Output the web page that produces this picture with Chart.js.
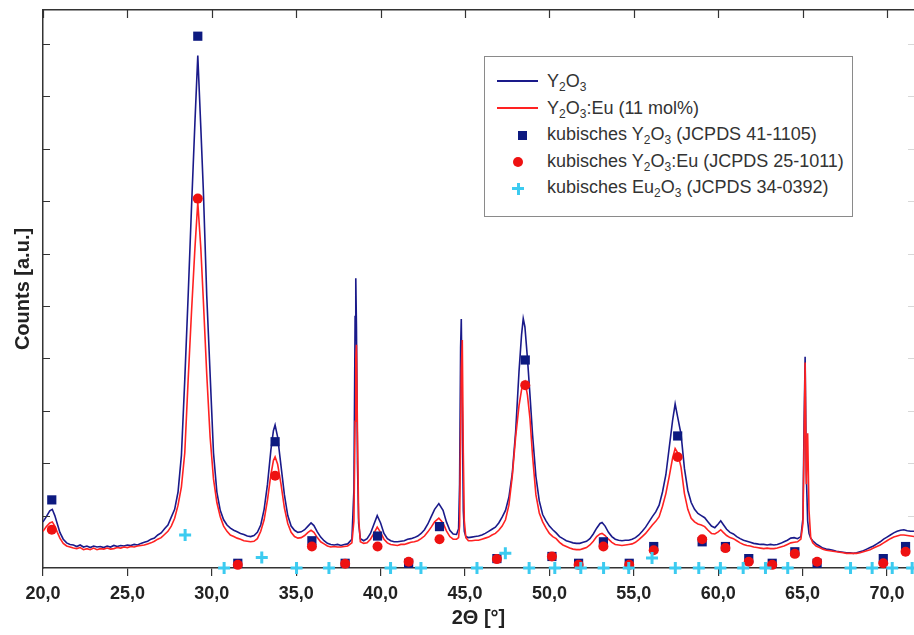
<!DOCTYPE html>
<html lang="de">
<head>
<meta charset="utf-8">
<title>XRD Y2O3</title>
<script src="https://cdn.jsdelivr.net/npm/chart.js@4.4.1/dist/chart.umd.min.js"></script>
<style>
  html, body { margin: 0; padding: 0; background: #fff; overflow: hidden; }
  #wrap { position: relative; width: 914px; height: 635px; }
  #legend {
    position: absolute; left: 484px; top: 56px; width: 369px; height: 161px;
    box-sizing: border-box; border: 1.5px solid #8a8a8a; background: #fff;
    padding-top: 11px;
    font: 18px "Liberation Sans", Arial, sans-serif; color: #333;
  }
  #legend .row { position: relative; height: 26.5px; line-height: 26.5px; padding-left: 62px; white-space: nowrap; }
  #legend sub { font-size: 12px; vertical-align: -4px; line-height: 0; }
  #legend .key { position: absolute; left: 12px; top: 0; width: 41px; height: 26.5px; }
  .key.line::before { content: ""; position: absolute; left: 0; right: 0; top: 12px; height: 2px; }
  .key.navy::before { background: #1a1a8a; }
  .key.red::before { background: #ff2222; }
  .key.sq::before { content: ""; position: absolute; left: 21px; top: 10px; width: 9px; height: 9px; background: #0d1a80; }
  .key.dot::before { content: ""; position: absolute; left: 16px; top: 9px; width: 10px; height: 10px; border-radius: 50%; background: #ee1111; }
  .key.cross::before { content: ""; position: absolute; left: 15px; top: 13px; width: 12px; height: 3px; background: #3ccbf0; }
  .key.cross::after { content: ""; position: absolute; left: 19.5px; top: 8.5px; width: 3px; height: 12px; background: #3ccbf0; }
</style>
</head>
<body>
<div id="wrap">
  <canvas id="xrd" width="914" height="635"></canvas>
  <div id="legend"></div>
</div>
<script>
// 2Theta grid and intensities (arbitrary units, 1 = one y tick)
const twoTheta = [
  20.0, 20.2, 20.4, 20.55, 20.7, 20.85, 21.0, 21.2, 21.4, 21.6, 21.8, 22.0, 22.2, 22.4, 22.6, 22.8,
  23.0, 23.2, 23.4, 23.6, 23.8, 24.0, 24.2, 24.4, 24.6, 24.8, 25.0, 25.2, 25.4, 25.6, 25.8, 26.0,
  26.2, 26.4, 26.6, 26.8, 27.0, 27.2, 27.4, 27.6, 27.8, 28.0, 28.2, 28.4, 28.6, 28.8, 29.0, 29.17,
  29.35, 29.5, 29.7, 29.9, 30.1, 30.3, 30.5, 30.7, 30.9, 31.1, 31.3, 31.5, 31.7, 31.9, 32.1, 32.3,
  32.5, 32.7, 32.9, 33.1, 33.3, 33.5, 33.65, 33.75, 33.9, 34.1, 34.3, 34.5, 34.7, 34.9, 35.1, 35.3,
  35.5, 35.7, 35.88, 36.05, 36.25, 36.45, 36.65, 36.85, 37.05, 37.25, 37.45, 37.65, 37.85, 38.05, 38.3, 38.42,
  38.49, 38.53, 38.57, 38.63, 38.7, 38.8, 39.0, 39.2, 39.4, 39.6, 39.8, 40.0, 40.2, 40.4, 40.6, 40.8,
  41.0, 41.2, 41.4, 41.6, 41.8, 42.0, 42.2, 42.4, 42.6, 42.8, 43.0, 43.2, 43.45, 43.7, 43.9, 44.1,
  44.3, 44.5, 44.62, 44.68, 44.74, 44.78, 44.84, 44.9, 44.96, 45.05, 45.2, 45.4, 45.6, 45.8, 46.0, 46.2,
  46.4, 46.6, 46.8, 47.0, 47.2, 47.4, 47.6, 47.8, 48.0, 48.2, 48.35, 48.45, 48.55, 48.7, 48.85, 49.0,
  49.2, 49.4, 49.6, 49.8, 50.0, 50.2, 50.4, 50.6, 50.8, 51.0, 51.2, 51.4, 51.6, 51.8, 52.0, 52.2,
  52.4, 52.6, 52.8, 53.0, 53.12, 53.3, 53.5, 53.7, 53.9, 54.1, 54.3, 54.5, 54.7, 54.9, 55.1, 55.3,
  55.5, 55.7, 55.9, 56.1, 56.3, 56.5, 56.7, 56.9, 57.1, 57.3, 57.45, 57.6, 57.8, 58.0, 58.2, 58.4,
  58.6, 58.8, 59.0, 59.2, 59.4, 59.6, 59.8, 60.0, 60.15, 60.3, 60.5, 60.7, 60.9, 61.1, 61.3, 61.5,
  61.7, 61.9, 62.1, 62.3, 62.5, 62.7, 62.9, 63.1, 63.3, 63.5, 63.7, 63.9, 64.1, 64.3, 64.5, 64.7,
  64.9, 65.02, 65.09, 65.15, 65.22, 65.3, 65.38, 65.48, 65.6, 65.8, 66.0, 66.2, 66.4, 66.6, 66.8, 67.0,
  67.2, 67.4, 67.6, 67.8, 68.0, 68.2, 68.4, 68.6, 68.8, 69.0, 69.2, 69.4, 69.6, 69.8, 70.0, 70.2,
  70.4, 70.6, 70.8, 71.0, 71.2, 71.4, 71.6
];

const countsY2O3 = [
  0.88, 0.98, 1.09, 1.12, 1.00, 0.84, 0.68, 0.55, 0.48, 0.45, 0.44, 0.41, 0.44, 0.40, 0.42, 0.39,
  0.42, 0.40, 0.41, 0.39, 0.42, 0.40, 0.43, 0.41, 0.43, 0.42, 0.44, 0.43, 0.45, 0.44, 0.47, 0.49,
  0.51, 0.55, 0.57, 0.63, 0.67, 0.75, 0.82, 0.97, 1.12, 1.45, 2.15, 3.60, 5.20, 6.90, 8.50, 9.78,
  8.40, 7.20, 5.20, 3.70, 2.20, 1.45, 1.10, 0.92, 0.82, 0.76, 0.72, 0.69, 0.66, 0.64, 0.61, 0.60,
  0.62, 0.68, 0.82, 1.12, 1.60, 2.25, 2.62, 2.73, 2.50, 1.95, 1.40, 1.00, 0.80, 0.72, 0.68, 0.69,
  0.73, 0.80, 0.86, 0.81, 0.69, 0.59, 0.52, 0.47, 0.45, 0.44, 0.45, 0.43, 0.45, 0.46, 0.55, 1.50,
  4.80, 5.53, 4.60, 2.00, 0.85, 0.56, 0.52, 0.56, 0.66, 0.83, 1.00, 0.86, 0.66, 0.56, 0.52, 0.50,
  0.50, 0.51, 0.52, 0.55, 0.56, 0.58, 0.61, 0.66, 0.73, 0.84, 0.98, 1.12, 1.23, 1.10, 0.88, 0.72,
  0.65, 0.64, 0.75, 1.60, 4.20, 4.75, 3.00, 1.10, 0.70, 0.60, 0.58, 0.59, 0.60, 0.61, 0.63, 0.66,
  0.70, 0.74, 0.78, 0.86, 0.97, 1.10, 1.35, 1.80, 2.60, 3.75, 4.45, 4.76, 4.60, 4.00, 3.30, 2.55,
  1.75, 1.28, 1.02, 0.90, 0.80, 0.73, 0.67, 0.60, 0.56, 0.52, 0.50, 0.48, 0.47, 0.47, 0.49, 0.51,
  0.56, 0.65, 0.76, 0.85, 0.87, 0.80, 0.68, 0.60, 0.55, 0.53, 0.52, 0.53, 0.53, 0.55, 0.58, 0.63,
  0.70, 0.78, 0.88, 0.98, 1.07, 1.20, 1.45, 1.78, 2.30, 2.82, 3.13, 2.88, 2.55, 1.90, 1.48, 1.25,
  1.12, 1.04, 1.00, 0.96, 0.88, 0.80, 0.77, 0.84, 0.90, 0.83, 0.74, 0.68, 0.65, 0.60, 0.56, 0.53,
  0.51, 0.49, 0.47, 0.46, 0.45, 0.45, 0.44, 0.45, 0.44, 0.45, 0.47, 0.50, 0.53, 0.57, 0.58, 0.56,
  0.60, 0.95, 2.80, 4.03, 1.80, 0.90, 0.66, 0.57, 0.52, 0.46, 0.42, 0.38, 0.36, 0.35, 0.34, 0.32,
  0.31, 0.30, 0.29, 0.29, 0.28, 0.29, 0.31, 0.33, 0.36, 0.39, 0.42, 0.46, 0.50, 0.55, 0.59, 0.63,
  0.67, 0.70, 0.72, 0.73, 0.71, 0.70, 0.70
];

const countsY2O3Eu = [
  0.70, 0.79, 0.86, 0.88, 0.80, 0.68, 0.57, 0.47, 0.42, 0.40, 0.38, 0.37, 0.39, 0.35, 0.37, 0.35,
  0.38, 0.35, 0.37, 0.36, 0.38, 0.36, 0.37, 0.39, 0.38, 0.40, 0.39, 0.41, 0.40, 0.42, 0.43, 0.44,
  0.46, 0.48, 0.51, 0.55, 0.58, 0.64, 0.70, 0.80, 0.95, 1.20, 1.55, 2.20, 3.60, 4.90, 6.10, 6.98,
  6.10, 5.10, 3.70, 2.50, 1.70, 1.25, 0.98, 0.80, 0.70, 0.63, 0.60, 0.57, 0.55, 0.52, 0.51, 0.50,
  0.51, 0.56, 0.70, 0.92, 1.30, 1.78, 2.05, 2.12, 1.98, 1.60, 1.15, 0.85, 0.68, 0.60, 0.57, 0.58,
  0.62, 0.68, 0.72, 0.68, 0.58, 0.50, 0.46, 0.42, 0.40, 0.41, 0.40, 0.40, 0.41, 0.42, 0.48, 0.90,
  2.80, 4.00, 4.26, 2.60, 0.95, 0.50, 0.47, 0.48, 0.55, 0.66, 0.78, 0.68, 0.55, 0.48, 0.45, 0.44,
  0.43, 0.45, 0.45, 0.47, 0.49, 0.50, 0.52, 0.56, 0.61, 0.69, 0.78, 0.88, 0.95, 0.86, 0.71, 0.60,
  0.55, 0.55, 0.58, 0.80, 2.50, 3.80, 4.35, 2.20, 0.90, 0.58, 0.52, 0.52, 0.53, 0.53, 0.55, 0.57,
  0.59, 0.63, 0.66, 0.72, 0.80, 0.92, 1.20, 1.75, 2.50, 3.10, 3.40, 3.52, 3.56, 3.30, 2.85, 2.15,
  1.40, 1.05, 0.88, 0.76, 0.66, 0.60, 0.56, 0.49, 0.44, 0.41, 0.38, 0.36, 0.35, 0.35, 0.37, 0.39,
  0.44, 0.51, 0.60, 0.65, 0.66, 0.62, 0.55, 0.49, 0.45, 0.44, 0.43, 0.44, 0.45, 0.46, 0.49, 0.54,
  0.60, 0.66, 0.74, 0.82, 0.89, 0.98, 1.18, 1.42, 1.75, 2.10, 2.28, 2.20, 1.92, 1.42, 1.12, 0.95,
  0.88, 0.84, 0.82, 0.79, 0.72, 0.66, 0.65, 0.69, 0.73, 0.68, 0.62, 0.58, 0.56, 0.52, 0.48, 0.45,
  0.43, 0.42, 0.40, 0.39, 0.38, 0.37, 0.38, 0.37, 0.37, 0.38, 0.40, 0.42, 0.45, 0.48, 0.49, 0.50,
  0.55, 0.85, 2.40, 3.92, 1.60, 2.57, 1.10, 0.58, 0.48, 0.42, 0.39, 0.36, 0.34, 0.33, 0.32, 0.31,
  0.30, 0.29, 0.28, 0.28, 0.28, 0.28, 0.29, 0.31, 0.33, 0.35, 0.38, 0.41, 0.44, 0.48, 0.52, 0.56,
  0.59, 0.61, 0.63, 0.63, 0.62, 0.61, 0.60
];

// reference reflections (JCPDS cards), marker positions as drawn
const refY2O3Theta = [20.52, 29.17, 31.54, 33.75, 35.93, 37.90, 39.82, 41.66, 43.49, 46.89, 48.57, 50.15, 51.73,
  53.20, 54.73, 56.18, 57.60, 59.05, 60.43, 61.81, 63.20, 64.54, 65.86, 69.78, 71.10];
const refY2O3Counts = [1.30, 10.15, 0.09, 2.41, 0.52, 0.09, 0.61, 0.09, 0.79, 0.18, 3.97, 0.22, 0.09,
  0.50, 0.09, 0.41, 2.52, 0.50, 0.41, 0.18, 0.09, 0.31, 0.09, 0.18, 0.41];

const refY2O3EuTheta = [20.52, 29.17, 31.54, 33.75, 35.93, 37.90, 39.82, 41.66, 43.49, 46.89, 48.57, 50.15, 51.73,
  53.20, 54.73, 56.18, 57.60, 59.05, 60.43, 61.81, 63.20, 64.54, 65.86, 69.78, 71.10];
const refY2O3EuCounts = [0.73, 7.05, 0.06, 1.76, 0.41, 0.08, 0.41, 0.12, 0.55, 0.17, 3.49, 0.22, 0.06,
  0.41, 0.06, 0.34, 2.12, 0.55, 0.38, 0.12, 0.06, 0.27, 0.12, 0.09, 0.31];

const refEu2O3Theta = [28.42, 30.73, 32.96, 35.02, 36.94, 40.59, 42.39, 45.71, 47.39, 48.80, 50.32, 51.86, 53.21,
  54.70, 56.08, 57.46, 58.85, 60.13, 61.48, 62.80, 64.12, 67.84, 69.12, 70.31, 71.49];
const refEu2O3Counts = [0.63, 0.00, 0.20, 0.00, 0.00, 0.00, 0.00, 0.00, 0.28, 0.00, 0.00, 0.00, 0.00,
  0.00, 0.19, 0.00, 0.00, 0.00, 0.00, 0.00, 0.00, 0.00, 0.00, 0.00, 0.00];

const legendLabels = [
  'Y<sub>2</sub>O<sub>3</sub>',
  'Y<sub>2</sub>O<sub>3</sub>:Eu (11 mol%)',
  'kubisches Y<sub>2</sub>O<sub>3</sub> (JCPDS 41-1105)',
  'kubisches Y<sub>2</sub>O<sub>3</sub>:Eu (JCPDS 25-1011)',
  'kubisches Eu<sub>2</sub>O<sub>3</sub> (JCPDS 34-0392)'
];
const legendKeys = ['line navy', 'line red', 'sq', 'dot', 'cross'];

const X_MIN = 20, X_MAX = 71.6, Y_MAX = 10.65;

function pairs(xs, ys) {
  return xs.map((x, i) => ({ x: x, y: ys[i] }));
}

// axis runs to the window edge: no extra room for the last label
function fixHeight(h) {
  return function (s) {
    s.height = h;
    s.paddingLeft = 0;
    s.paddingRight = 0;
  };
}

// ticks pointing into the plot on the left and top axes
const inwardTicks = {
  id: 'inwardTicks',
  afterDraw(chart) {
    const { ctx, chartArea: a, scales } = chart;
    ctx.save();
    ctx.strokeStyle = '#333';
    ctx.lineWidth = 1.2;
    ctx.beginPath();
    scales.y.ticks.forEach((t) => {
      if (t.value === 0) return;
      const py = Math.round(scales.y.getPixelForValue(t.value)) + 0.5;
      ctx.moveTo(a.left, py);
      ctx.lineTo(a.left + 7, py);
    });
    scales.x2.ticks.forEach((t) => {
      const px = Math.round(scales.x2.getPixelForValue(t.value)) + 0.5;
      ctx.moveTo(px, a.top);
      ctx.lineTo(px, a.top + 8);
    });
    ctx.stroke();
    // faint marks of the cut-off right axis
    ctx.strokeStyle = '#d8d8d8';
    ctx.beginPath();
    scales.y.ticks.forEach((t) => {
      if (t.value === 0) return;
      const py = Math.round(scales.y.getPixelForValue(t.value)) + 0.5;
      ctx.moveTo(a.right - 6, py);
      ctx.lineTo(a.right, py);
    });
    ctx.stroke();
    ctx.restore();
  }
};

const fontFamily = '"Liberation Sans", Arial, Helvetica, sans-serif';

new Chart(document.getElementById('xrd'), {
  type: 'scatter',
  data: {
    datasets: [
      {
        label: 'kubisches Eu2O3 (JCPDS 34-0392)',
        data: pairs(refEu2O3Theta, refEu2O3Counts),
        pointStyle: 'cross',
        pointRadius: 6,
        borderWidth: 3,
        borderColor: '#3ccbf0',
        backgroundColor: '#3ccbf0',
        clip: false,
        order: 1
      },
      {
        label: 'kubisches Y2O3:Eu (JCPDS 25-1011)',
        data: pairs(refY2O3EuTheta, refY2O3EuCounts),
        pointStyle: 'circle',
        pointRadius: 5,
        borderWidth: 0,
        backgroundColor: '#ee1111',
        borderColor: '#ee1111',
        clip: false,
        order: 2
      },
      {
        label: 'kubisches Y2O3 (JCPDS 41-1105)',
        data: pairs(refY2O3Theta, refY2O3Counts),
        pointStyle: 'rect',
        pointRadius: 6.5,
        borderWidth: 0,
        backgroundColor: '#0d1a80',
        borderColor: '#0d1a80',
        clip: false,
        order: 3
      },
      {
        label: 'Y2O3:Eu (11 mol%)',
        data: pairs(twoTheta, countsY2O3Eu),
        showLine: true,
        pointRadius: 0,
        borderColor: '#ff2222',
        borderWidth: 1.6,
        tension: 0,
        order: 5
      },
      {
        label: 'Y2O3',
        data: pairs(twoTheta, countsY2O3),
        showLine: true,
        pointRadius: 0,
        borderColor: '#1a1a8a',
        borderWidth: 1.6,
        tension: 0,
        order: 6
      }
    ]
  },
  options: {
    responsive: false,
    animation: false,
    devicePixelRatio: 1,
    layout: { padding: 0, autoPadding: false },
    plugins: {
      legend: { display: false },
      tooltip: { enabled: false }
    },
    scales: {
      x: {
        type: 'linear',
        position: 'bottom',
        min: X_MIN,
        max: X_MAX,
        afterFit: fixHeight(67),
        border: { display: true, color: '#333', width: 1.5 },
        grid: { display: true, drawOnChartArea: false, drawTicks: true, tickLength: 8, color: '#333', lineWidth: 1.2 },
        ticks: {
          stepSize: 5,
          includeBounds: false,
          autoSkip: false,
          maxRotation: 0,
          padding: 7,
          color: '#222',
          font: { family: fontFamily, size: 18, weight: 'bold' },
          callback: (v) => v.toFixed(1).replace('.', ',')
        },
        title: {
          display: true,
          text: '2\u0398 [\u00b0]',
          color: '#222',
          padding: { top: 0, bottom: 5 },
          font: { family: fontFamily, size: 20, weight: 'bold' }
        }
      },
      x2: {
        type: 'linear',
        position: 'top',
        min: X_MIN,
        max: X_MAX,
        afterFit: fixHeight(10),
        border: { display: true, color: '#333', width: 1.5 },
        grid: { display: false },
        ticks: { display: false, stepSize: 5, includeBounds: false }
      },
      y: {
        type: 'linear',
        position: 'left',
        min: 0,
        max: Y_MAX,
        afterFit(s) { s.width = 43; },
        border: { display: true, color: '#333', width: 1.5 },
        grid: { display: false },
        ticks: { display: false, stepSize: 1, includeBounds: false },
        title: {
          display: true,
          text: 'Counts [a.u.]',
          color: '#222',
          padding: { top: 11, bottom: 0 },
          font: { family: fontFamily, size: 20, weight: 'bold' }
        }
      }
    }
  },
  plugins: [inwardTicks]
});

// legend box with real subscripts
const legendEl = document.getElementById('legend');
legendLabels.forEach((html, i) => {
  const row = document.createElement('div');
  row.className = 'row';
  row.innerHTML = '<span class="key ' + legendKeys[i] + '"></span>' + html;
  legendEl.appendChild(row);
});
</script>
</body>
</html>
